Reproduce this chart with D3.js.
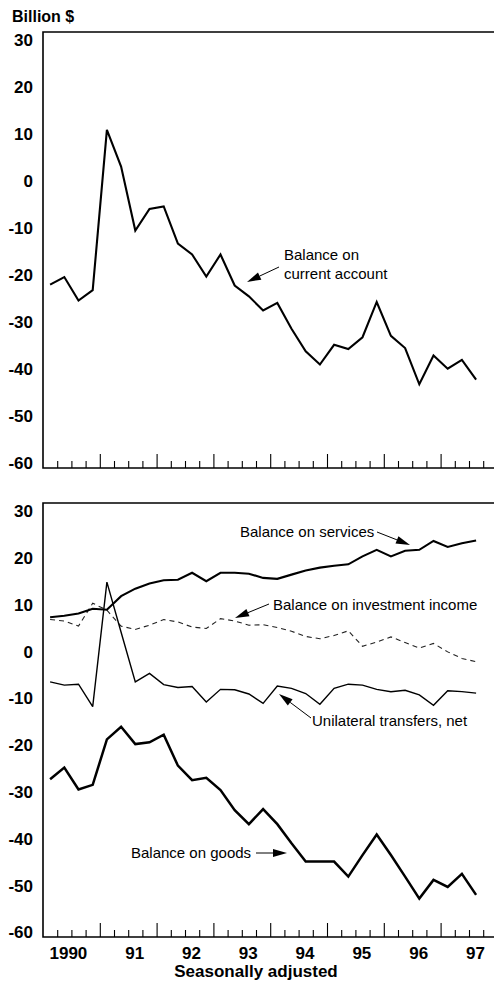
<!DOCTYPE html>
<html>
<head>
<meta charset="utf-8">
<script src="https://cdn.jsdelivr.net/npm/d3@7"></script>
<style>
  body { margin: 0; background: #fff; }
  svg { display: block; }
  text { font-family: "Liberation Sans", Arial, Helvetica, sans-serif; fill: #000; }
</style>
</head>
<body>
<svg id="chart" width="494" height="983"></svg>
<script>
// quarterly observations, 1990 Q1 .. 1997 Q3
let quarters = [
  '1990Q1','1990Q2','1990Q3','1990Q4','1991Q1','1991Q2','1991Q3','1991Q4',
  '1992Q1','1992Q2','1992Q3','1992Q4','1993Q1','1993Q2','1993Q3','1993Q4',
  '1994Q1','1994Q2','1994Q3','1994Q4','1995Q1','1995Q2','1995Q3','1995Q4',
  '1996Q1','1996Q2','1996Q3','1996Q4','1997Q1','1997Q2','1997Q3'
];

// billion $, seasonally adjusted
let currentAccount = [-22.1, -20.5, -25.5, -23.3, 10.8, 3.0, -10.6, -6.0, -5.5, -13.4, -15.7, -20.4, -15.7, -22.3, -24.6, -27.6,
  -26.0, -31.5, -36.3, -39.1, -34.9, -35.8, -33.3, -25.8, -33.0, -35.6, -43.3, -37.2, -40.0, -38.1, -42.3];
let services = [7.2, 7.5, 8.0, 9.0, 8.8, 11.7, 13.3, 14.4, 15.1, 15.2, 16.7, 14.9, 16.7, 16.7, 16.5, 15.6,
  15.4, 16.3, 17.2, 17.8, 18.2, 18.5, 20.2, 21.6, 20.2, 21.4, 21.6, 23.5, 22.2, 23.0, 23.6];
let investmentIncome = [6.7, 6.4, 5.3, 10.2, 8.7, 5.3, 4.6, 5.5, 6.7, 6.2, 5.1, 4.8, 6.9, 6.4, 5.5, 5.6,
  5.0, 4.2, 3.1, 2.6, 3.3, 4.3, 1.0, 1.9, 3.0, 1.8, 0.6, 1.6, -0.2, -1.6, -2.3];
let unilateralTransfers = [-6.6, -7.3, -7.1, -11.9, 14.7, 4.0, -6.6, -4.8, -7.2, -7.8, -7.6, -10.9, -8.2, -8.3, -9.2, -11.2,
  -7.5, -8.0, -9.1, -11.4, -8.0, -7.1, -7.3, -8.2, -8.7, -8.4, -9.4, -11.6, -8.5, -8.7, -9.0];
let goods = [-27.4, -24.9, -29.6, -28.6, -18.9, -16.2, -19.9, -19.5, -17.9, -24.5, -27.6, -27.1, -29.7, -34.0, -37.0, -33.8,
  -37.0, -41.1, -45.0, -45.0, -45.0, -48.2, -43.6, -39.2, -43.6, -48.2, -52.9, -48.9, -50.4, -47.6, -52.1];

let yTicks = [30, 20, 10, 0, -10, -20, -30, -40, -50, -60];
let years = [1990, 1991, 1992, 1993, 1994, 1995, 1996, 1997];
let yearLabels = ['1990', '91', '92', '93', '94', '95', '96', '97'];

let svg = d3.select('#chart');
let W = 494;

// one quarter is ~14.2px wide, 1990 starts at the left frame
let x = d3.scaleLinear().domain([1990, 1998]).range([43, 43 + 32 * 14.2]);
function qx(q) {
  let yr = +q.slice(0, 4), n = +q.slice(-1);
  return x(yr + (n - 0.5) / 4);
}

// quarter boundaries for the tick marks along the bottom of each panel
let qTicks = [];
for (let yr = 1990; yr < 1998; yr++) {
  for (let k = 0; k < 4; k++) {
    let v = yr + k / 4;
    if (v > 1990 && v < 1997.8) qTicks.push(v);
  }
}

function drawPanel(top, bottom) {
  let y = d3.scaleLinear().domain([31.6, -61.1]).range([top, bottom]);
  let g = svg.append('g');

  // value labels
  let yAxis = d3.axisLeft(y)
    .tickValues(yTicks)
    .tickSize(0)
    .tickPadding(10)
    .tickFormat(d => String(d));
  let ya = g.append('g')
    .attr('transform', 'translate(' + x(1990) + ',0)')
    .call(yAxis);
  ya.select('.domain').remove();
  ya.selectAll('text')
    .attr('font-family', '"Liberation Sans", Arial, sans-serif')
    .attr('font-size', 17)
    .attr('font-weight', 'bold')
    .attr('fill', '#000')
    .attr('dy', '0.36em');

  // quarter ticks pointing up from the baseline
  let xAxis = d3.axisTop(x).tickValues(qTicks).tickFormat('');
  let xa = g.append('g')
    .attr('transform', 'translate(0,' + bottom + ')')
    .call(xAxis);
  xa.select('.domain').remove();
  xa.selectAll('.tick line')
    .attr('stroke', '#000')
    .attr('stroke-width', 1.1)
    .attr('y2', d => (Math.abs(d - Math.round(d)) < 0.01 ? -14 : -7));

  // frame: top, left, bottom (right side runs off the page)
  g.append('path')
    .attr('d', 'M' + W + ',' + top + 'H' + x(1990) + 'V' + bottom + 'H' + W)
    .attr('fill', 'none')
    .attr('stroke', '#000')
    .attr('stroke-width', 1.6);

  return y;
}

function drawLine(y, values, width, dash, color) {
  let line = d3.line()
    .x((d, i) => qx(quarters[i]))
    .y(d => y(d));
  svg.append('path')
    .datum(values)
    .attr('d', line)
    .attr('fill', 'none')
    .attr('stroke', color || '#000')
    .attr('stroke-width', width)
    .attr('stroke-linejoin', 'miter')
    .attr('stroke-miterlimit', 3)
    .attr('stroke-dasharray', dash || null);
}

function arrow(tail, tip) {
  let dx = tip[0] - tail[0], dy = tip[1] - tail[1];
  let len = Math.sqrt(dx * dx + dy * dy);
  let ux = dx / len, uy = dy / len;
  let headLen = 14, headW = 4;
  let bx = tip[0] - ux * headLen, by = tip[1] - uy * headLen;
  svg.append('line')
    .attr('x1', tail[0]).attr('y1', tail[1])
    .attr('x2', bx).attr('y2', by)
    .attr('stroke', '#000')
    .attr('stroke-width', 1);
  svg.append('polygon')
    .attr('points', [
      tip,
      [bx - uy * headW, by + ux * headW],
      [bx + uy * headW, by - ux * headW]
    ].map(p => p.join(',')).join(' '))
    .attr('fill', '#000');
}

function note(lines, tx, ty, tail, tip) {
  lines.forEach(function (s, i) {
    svg.append('text')
      .attr('x', tx)
      .attr('y', ty + i * 19)
      .attr('font-size', 15)
      .text(s);
  });
  arrow(tail, tip);
}

// unit label
svg.append('text')
  .attr('x', 12)
  .attr('y', 22)
  .attr('font-size', 16)
  .attr('font-weight', 'bold')
  .text('Billion $');

// top panel
let yTop = drawPanel(32, 468);
drawLine(yTop, currentAccount, 2.1);
note(['Balance on', 'current account'], 284, 260, [279, 267], [247, 282]);

// bottom panel
let yBot = drawPanel(503, 937);
drawLine(yBot, investmentIncome, 1.1, '5,4', '#222');
drawLine(yBot, unilateralTransfers, 1.4);
drawLine(yBot, services, 2.1);
drawLine(yBot, goods, 2.5);

note(['Balance on services'], 240, 537, [377, 532], [410, 545]);
note(['Balance on investment income'], 273, 610, [269, 604], [235, 618]);
note(['Unilateral transfers, net'], 312, 726, [311, 718], [279, 694]);
note(['Balance on goods'], 131, 858, [256, 853], [287, 853]);

// year labels under the bottom panel
svg.selectAll('.yearLabel')
  .data(years)
  .enter().append('text')
  .attr('class', 'yearLabel')
  .attr('x', d => x(d + 0.78))
  .attr('y', 959)
  .attr('text-anchor', 'end')
  .attr('font-size', 17)
  .attr('font-weight', 'bold')
  .text((d, i) => yearLabels[i]);

svg.append('text')
  .attr('x', x(1993.75))
  .attr('y', 977)
  .attr('text-anchor', 'middle')
  .attr('font-size', 17)
  .attr('font-weight', 'bold')
  .text('Seasonally adjusted');
</script>
</body>
</html>
